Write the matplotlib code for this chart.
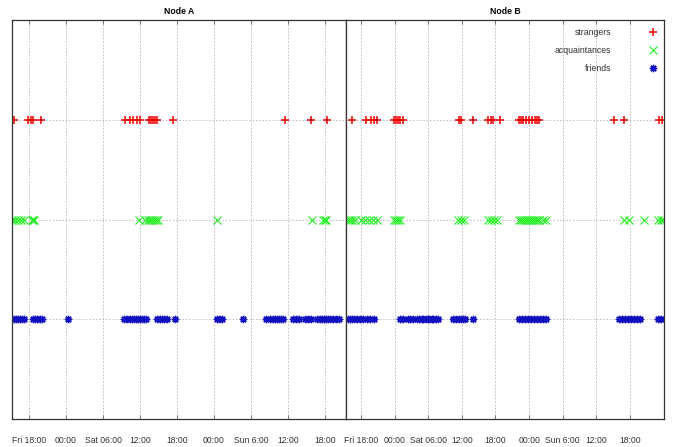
import matplotlib
matplotlib.use('Agg')
import matplotlib.pyplot as plt

plt.rcParams['font.family'] = ['Liberation Sans', 'DejaVu Sans']

# hours since Friday 00:00
tick_hours = [18, 24, 30, 36, 42, 48, 54, 60, 66]
tick_labels = ['Fri 18:00', '00:00', 'Sat 06:00', '12:00', '18:00',
               '00:00', 'Sun 6:00', '12:00', '18:00']

categories = ['strangers', 'acquaintances', 'friends']
row_level = [3, 2, 1]

nodeA_strangers = [15.6, 17.9, 18.3, 18.6, 19.9, 33.6, 34.4, 34.9, 35.5, 36.0,
                   37.5, 37.8, 38.1, 38.4, 38.7, 41.4, 59.5, 63.7, 66.3]
nodeA_acquaintances = [15.3, 15.7, 16.2, 16.7, 17.2, 18.5, 18.65, 18.8,
                       35.8, 36.8, 37.3, 37.6, 37.9, 38.3, 38.6, 38.9,
                       48.5, 63.9, 65.7, 66.0, 66.2]
nodeA_friends = [15.3, 15.6, 15.9, 16.2, 16.5, 16.9, 17.2, 18.65, 19.0, 19.3,
                 19.8, 20.1, 24.3, 33.4, 33.9, 34.4, 34.7, 35.0, 35.35, 35.7,
                 36.0, 36.3, 36.65, 37.0, 38.75, 39.2, 39.6, 39.9, 40.4, 41.7,
                 48.5, 49.0, 49.3, 52.7, 56.4, 57.1, 57.6, 57.9, 58.2, 58.5,
                 58.9, 59.2, 60.8, 61.3, 61.8, 62.75, 63.2, 63.7, 64.7, 65.2,
                 65.5, 65.8, 66.2, 66.5, 66.8, 67.3, 67.8, 68.3]

nodeB_strangers = [16.4, 18.9, 19.8, 20.3, 20.9, 23.9, 24.3, 24.65, 25.0, 25.4,
                   35.4, 35.8, 38.0, 40.65, 41.2, 41.55, 42.8, 46.2, 46.6,
                   46.9, 47.5, 48.0, 48.6, 49.1, 49.5, 49.85, 63.1, 64.9,
                   71.2, 71.7]
nodeB_acquaintances = [15.66, 16.0, 16.4, 16.9, 18.0, 18.7, 19.4, 20.2, 20.9,
                       23.9, 24.3, 24.65, 25.0, 35.3, 35.8, 36.3, 40.65, 41.2,
                       41.7, 42.3, 46.2, 46.6, 46.9, 47.3, 47.7, 48.0, 48.4,
                       48.7, 49.1, 49.5, 49.8, 50.4, 51.1, 64.9, 65.8, 68.5,
                       71.0, 71.6, 71.9]
nodeB_friends = [15.66, 16.0, 16.4, 16.7, 17.3, 17.8, 18.4, 19.1, 19.6, 20.3,
                 25.0, 25.55, 26.3, 26.8, 27.35, 27.9, 28.4, 28.8, 29.1, 29.5,
                 29.9, 30.2, 30.6, 30.9, 31.3, 31.7, 34.4, 34.9, 35.4, 35.8,
                 36.2, 36.5, 38.0, 46.2, 46.8, 47.3, 47.8, 48.4, 48.9, 49.5,
                 50.0, 50.5, 51.1, 64.0, 64.6, 65.1, 65.6, 66.2, 66.7, 67.3,
                 67.8, 71.0, 71.6]

nodeA_xlim = (15.24, 69.4)
nodeB_xlim = (15.3, 72.1)

colors = ['#ee0000', '#22ee22', '#1010c0']
markers = ['+', 'x', (8, 2, 0)]
edge_widths = [1.1, 0.8, 1.0]

fig = plt.figure(figsize=(6.86, 4.47), dpi=100)
axA = fig.add_axes([12/686, 1-419/447, 334/686, 399/447])
axB = fig.add_axes([346/686, 1-419/447, 318/686, 399/447])

panels = [
    (axA, 'Node A', [nodeA_strangers, nodeA_acquaintances, nodeA_friends], nodeA_xlim),
    (axB, 'Node B', [nodeB_strangers, nodeB_acquaintances, nodeB_friends], nodeB_xlim),
]

for ax, title, series, xlim in panels:
    for cat, lvl, vals, c, m, mew in zip(categories, row_level, series, colors,
                                          markers, edge_widths):
        ax.plot(vals, [lvl]*len(vals), linestyle='none', marker=m, color=c,
                markersize=5.3, markeredgewidth=mew, label=cat)
    ax.set_xlim(*xlim)
    ax.set_ylim(0, 4)
    ax.set_xticks(tick_hours)
    ax.set_xticklabels(tick_labels)
    ax.set_yticks([1, 2, 3])
    ax.set_yticklabels([])
    ax.tick_params(axis='y', length=0)
    ax.tick_params(axis='x', direction='in', top=True, bottom=True, length=3,
                   width=0.6, color='#666666', pad=12, labelsize=6.2,
                   labelcolor='#333333')
    ax.grid(True, color='#b8b8b8', linestyle=(0, (2, 2)), linewidth=0.6)
    ax.set_axisbelow(True)
    for s in ax.spines.values():
        s.set_color('#333333')
        s.set_linewidth(0.9)
    ax.set_title(title, fontsize=6.2, fontweight='bold', pad=4)

axB.legend(loc='upper right', frameon=False, markerfirst=False, fontsize=6.3,
           handlelength=1.5, handletextpad=4.0, labelspacing=1.0,
           borderpad=0.2, borderaxespad=0.3, numpoints=1,
           bbox_to_anchor=(1.0, 1 - 4/399))
for t in axB.get_legend().get_texts():
    t.set_color('#333333')

fig.savefig('out.png', dpi=100)
